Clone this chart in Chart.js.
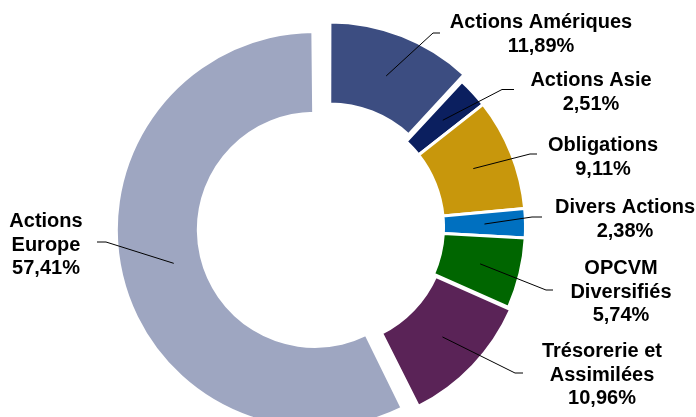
<!DOCTYPE html>
<html>
<head>
<meta charset="utf-8">
<script src="https://cdn.jsdelivr.net/npm/chart.js@4.4.0/dist/chart.umd.min.js"></script>
<style>
  html, body { margin: 0; padding: 0; background: #fff; overflow: hidden; }
  #wrap { width: 696px; height: 417px; }
</style>
</head>
<body>
<div id="wrap"><canvas id="myChart" width="696" height="417"></canvas></div>
<script>
const categories = ['Actions Amériques', 'Actions Asie', 'Obligations', 'Divers Actions',
                    'OPCVM\nDiversifiés', 'Trésorerie et\nAssimilées', 'Actions\nEurope'];
const shares = [11.89, 2.51, 9.11, 2.38, 5.74, 10.96, 57.41];
const sliceColors = ['#3c4d81', '#0b1f5f', '#c8970c', '#0070c0', '#006600', '#5a2357', '#9ea6c1'];
const explode = [28, 0, 0, 0, 0, 12, 50];

// where each label sits (centre x, first baseline) and its leader line elbow/end
const labelPos = [
    { x: 541, y: 28, elbow: [433, 33], end: [440, 33] },
    { x: 591, y: 86, elbow: [502, 89.5], end: [514, 89.5] },
    { x: 603, y: 151, elbow: [530, 154], end: [537, 154] },
    { x: 625, y: 213, elbow: [532, 217], end: [542, 217] },
    { x: 621, y: 274, elbow: [546, 290], end: [553, 290] },
    { x: 602, y: 357, elbow: [515, 373], end: [523, 373] },
    { x: 46, y: 227, elbow: [106, 242], end: [97, 242] }
];

const fmt = v => v.toFixed(2).replace('.', ',') + '%';

// Chart.js also grows the radius of an exploded arc; undo that so it only slides out
const explodeFix = {
    id: 'explodeFix',
    afterDatasetUpdate(chart, args) {
        args.meta.data.forEach(arc => {
            const o = (arc.options.offset || 0) / 4;
            const fix = 1 - Math.sin(Math.min(Math.PI, arc.circumference));
            arc.innerRadius -= o * fix;
            arc.outerRadius -= o * fix;
        });
    }
};

const sliceLabels = {
    id: 'sliceLabels',
    afterDraw(chart) {
        const ctx = chart.ctx;
        const arcs = chart.getDatasetMeta(0).data;
        ctx.save();
        ctx.strokeStyle = '#000';
        ctx.lineWidth = 1;
        arcs.forEach((arc, i) => {
            const half = (arc.startAngle + arc.endAngle) / 2;
            const shift = (arc.options.offset || 0) / 4;
            const r = arc.innerRadius + (arc.outerRadius - arc.innerRadius) * 0.5 + shift;
            const sx = arc.x + Math.cos(half) * r;
            const sy = arc.y + Math.sin(half) * r;
            const p = labelPos[i];
            ctx.beginPath();
            ctx.moveTo(sx, sy);
            ctx.lineTo(p.elbow[0], p.elbow[1]);
            ctx.lineTo(p.end[0], p.end[1]);
            ctx.stroke();

            ctx.fillStyle = '#000';
            ctx.font = 'bold 20px "Liberation Sans", Arial, sans-serif';
            ctx.textAlign = 'center';
            ctx.textBaseline = 'alphabetic';
            const lines = categories[i].split('\n').concat([fmt(shares[i])]);
            lines.forEach((t, k) => ctx.fillText(t, p.x, p.y + k * 23.5));
        });
        ctx.restore();
    }
};

const ctx = document.getElementById('myChart').getContext('2d');
new Chart(ctx, {
    type: 'doughnut',
    data: {
        labels: categories,
        datasets: [{
            data: shares,
            backgroundColor: sliceColors,
            borderColor: '#ffffff',
            borderWidth: 3,
            offset: explode,
            hoverOffset: 0,
            clip: false
        }]
    },
    options: {
        responsive: false,
        animation: false,
        events: [],
        radius: 198.5,
        cutout: '58.7%',
        layout: { padding: { left: 0, right: 42, top: 37, bottom: 0 } },
        plugins: {
            legend: { display: false },
            tooltip: { enabled: false }
        }
    },
    plugins: [explodeFix, sliceLabels]
});
</script>
</body>
</html>
